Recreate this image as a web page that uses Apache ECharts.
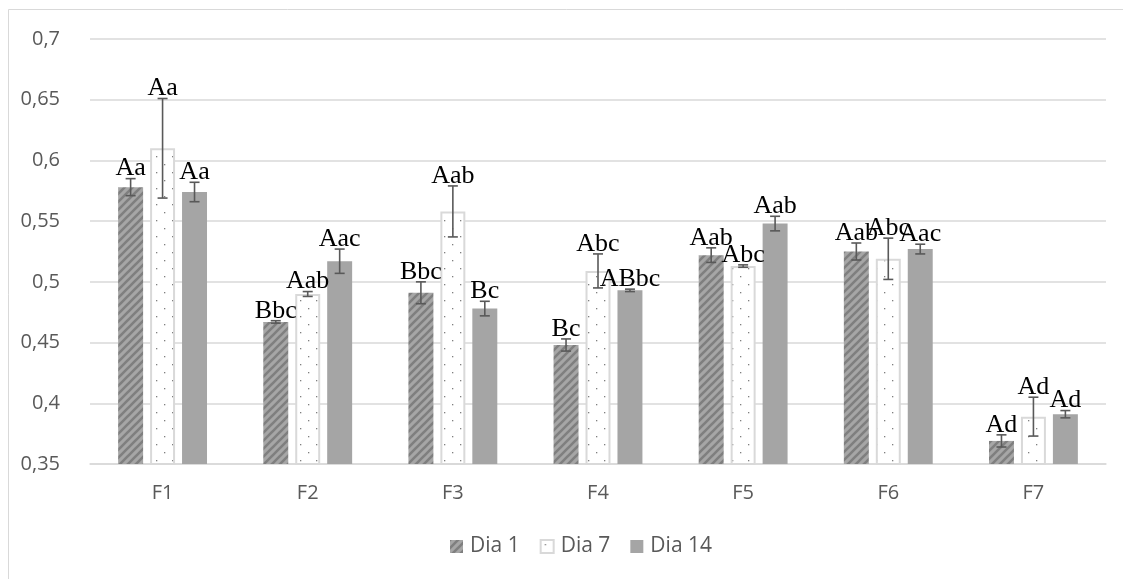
<!DOCTYPE html>
<html>
<head>
<meta charset="utf-8">
<script src="https://cdn.jsdelivr.net/npm/echarts@6/dist/echarts.min.js"></script>
<style>
  html, body { margin: 0; padding: 0; background: #fff; }
  #chart { width: 1123px; height: 579px; }
</style>
</head>
<body>
<div id="chart"></div>
<script>
// data
var categories = ['F1', 'F2', 'F3', 'F4', 'F5', 'F6', 'F7'];
var seriesNames = ['Dia 1', 'Dia 7', 'Dia 14'];

var dia1 = [0.578, 0.467, 0.491, 0.448, 0.522, 0.525, 0.369];
var dia7 = [0.610, 0.490, 0.558, 0.509, 0.513, 0.519, 0.389];
var dia14 = [0.574, 0.517, 0.478, 0.493, 0.548, 0.527, 0.391];

var err1 = [0.007, 0.001, 0.009, 0.005, 0.006, 0.007, 0.005];
var err7 = [0.041, 0.002, 0.021, 0.014, 0.001, 0.017, 0.016];
var err14 = [0.008, 0.010, 0.006, 0.001, 0.006, 0.004, 0.003];

var labels1 = ['Aa', 'Bbc', 'Bbc', 'Bc', 'Aab', 'Aab', 'Ad'];
var labels7 = ['Aa', 'Aab', 'Aab', 'Abc', 'Abc', 'Abc', 'Ad'];
var labels14 = ['Aa', 'Aac', 'Bc', 'ABbc', 'Aab', 'Aac', 'Ad'];

var yTicks = [0.35, 0.4, 0.45, 0.5, 0.55, 0.6, 0.65, 0.7];

// fill patterns
function hatchPattern() {
  var c = document.createElement('canvas');
  c.width = 8; c.height = 8;
  var ctx = c.getContext('2d');
  ctx.fillStyle = '#a6a6a6';
  ctx.fillRect(0, 0, 8, 8);
  ctx.strokeStyle = '#7f7f7f';
  ctx.lineWidth = 2.6;
  ctx.beginPath();
  ctx.moveTo(-2, 10); ctx.lineTo(10, -2);
  ctx.moveTo(-6, 6); ctx.lineTo(6, -6);
  ctx.moveTo(2, 14); ctx.lineTo(14, 2);
  ctx.stroke();
  return c;
}
function dotPattern() {
  var c = document.createElement('canvas');
  c.width = 16; c.height = 16;
  var ctx = c.getContext('2d');
  ctx.fillStyle = '#ffffff';
  ctx.fillRect(0, 0, 16, 16);
  ctx.fillStyle = '#7f7f7f';
  ctx.fillRect(4, 4, 1.3, 1.3);
  ctx.fillRect(12, 12, 1.3, 1.3);
  return c;
}

var BAR_W = 0.172;  // fraction of category width
var BAR_GAP = 0.28; // fraction of bar width

function errSeries(idx, values, errs, labels) {
  var data = values.map(function (v, i) { return [i, v, errs[i], labels[i]]; });
  return {
    type: 'custom',
    name: seriesNames[idx],
    z: 5,
    data: data,
    encode: { x: 0, y: 1 },
    renderItem: function (params, api) {
      var ci = api.value(0), v = api.value(1), e = api.value(2);
      var catW = api.size([1, 0])[0];
      var bw = catW * BAR_W;
      var off = (idx - 1) * (bw + bw * BAR_GAP);
      var hi = api.coord([ci, v + e]);
      var lo = api.coord([ci, v - e]);
      var x = hi[0] + off;
      var cap = 5;
      var st = { stroke: '#595959', lineWidth: 1.6 };
      return {
        type: 'group',
        children: [
          { type: 'line', shape: { x1: x, y1: hi[1], x2: x, y2: lo[1] }, style: st },
          { type: 'line', shape: { x1: x - cap, y1: hi[1], x2: x + cap, y2: hi[1] }, style: st },
          { type: 'line', shape: { x1: x - cap, y1: lo[1], x2: x + cap, y2: lo[1] }, style: st },
          {
            type: 'text',
            style: {
              x: x, y: hi[1] + 3,
              text: labels[params.dataIndex],
              align: 'center', verticalAlign: 'bottom',
              fontSize: 26,
              fontFamily: '"Liberation Serif", serif',
              fill: '#000000'
            }
          }
        ]
      };
    }
  };
}

var chart = echarts.init(document.getElementById('chart'));
chart.setOption({
  animation: false,
  backgroundColor: '#ffffff',
  graphic: [{
    type: 'rect',
    shape: { x: 8.5, y: 9.5, width: 1130, height: 600 },
    style: { fill: 'none', stroke: '#d9d9d9', lineWidth: 1 },
    silent: true
  }],
  grid: { left: 90, right: 17, top: 39, bottom: 115 },
  legend: {
    bottom: 17,
    left: 445,
    itemWidth: 13,
    itemHeight: 13,
    itemGap: 20,
    icon: 'rect',
    data: seriesNames,
    textStyle: { color: '#595959', fontSize: 21, padding: [0, 0, 0, 2], fontFamily: '"Open Sans", sans-serif' }
  },
  xAxis: {
    type: 'category',
    data: categories,
    axisLine: { lineStyle: { color: '#d9d9d9', width: 1.5 } },
    axisTick: { show: false },
    axisLabel: { color: '#595959', fontSize: 20, margin: 19, fontFamily: '"Open Sans", sans-serif' }
  },
  yAxis: {
    type: 'value',
    min: yTicks[0],
    max: yTicks[yTicks.length - 1],
    interval: 0.05,
    axisLine: { show: false },
    axisTick: { show: false },
    splitLine: { lineStyle: { color: '#d9d9d9', width: 1.5 } },
    axisLabel: {
      color: '#595959', fontSize: 20, margin: 30,
      fontFamily: '"Open Sans", sans-serif',
      formatter: function (v) { return String(Math.round(v * 100) / 100).replace('.', ','); }
    }
  },
  series: [
    {
      type: 'bar', name: seriesNames[0], data: dia1,
      barWidth: (BAR_W * 100) + '%', barGap: (BAR_GAP * 100) + '%',
      itemStyle: { color: { image: hatchPattern(), repeat: 'repeat' } }
    },
    {
      type: 'bar', name: seriesNames[1], data: dia7,
      barWidth: (BAR_W * 100) + '%', barGap: (BAR_GAP * 100) + '%',
      itemStyle: { color: { image: dotPattern(), repeat: 'repeat' }, borderColor: '#d9d9d9', borderWidth: 2 }
    },
    {
      type: 'bar', name: seriesNames[2], data: dia14,
      barWidth: (BAR_W * 100) + '%', barGap: (BAR_GAP * 100) + '%',
      itemStyle: { color: '#a5a5a5' }
    },
    errSeries(0, dia1, err1, labels1),
    errSeries(1, dia7, err7, labels7),
    errSeries(2, dia14, err14, labels14)
  ]
});
</script>
</body>
</html>
